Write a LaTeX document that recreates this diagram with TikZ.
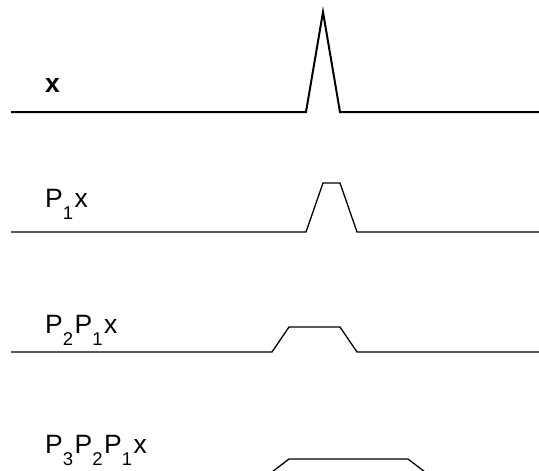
\documentclass[tikz,border=0pt]{standalone}
\usepackage{fontspec}
\setmainfont{Liberation Sans}
\usepackage{tikz}
\usetikzlibrary{positioning}
% subscript as in the figure: small and well below the baseline
\newcommand{\lowsub}[1]{\raisebox{-12.5pt}{\fontsize{18.5}{19}\selectfont #1}\kern1.5pt}
\tikzset{
  signal/.style={line width=1.3pt, line join=miter},
  spike/.style={signal, line width=2pt},
  rowlabel/.style={anchor=base west, inner sep=0pt, font=\fontsize{26.5}{30}\selectfont},
}

\begin{document}
\begin{tikzpicture}[x=1pt, y=-1pt]
    \useasboundingbox (0,0) rectangle (539,471);
    % input: a single spike
    \node[rowlabel, font=\fontsize{26.5}{30}\selectfont\bfseries] (lx) at (45,92) {x};
    \draw[spike] (11,112) -- (306,112) -- (323,12) -- (340,112) -- (539,112);
    % after P1
    \node[rowlabel] (lp1) at (45,207) {P\lowsub{1}x};
    \draw[signal] (11,232) -- (306,232) -- (323,183) -- (340,183) -- (357,232) -- (539,232);
    % after P2
    \node[rowlabel] (lp2) at (45,333) {P\lowsub{2}P\lowsub{1}x};
    \draw[signal] (11,352) -- (272,352) -- (289,327) -- (340,327) -- (357,352) -- (539,352);
    % after P3
    \node[rowlabel] (lp3) at (45,453) {P\lowsub{3}P\lowsub{2}P\lowsub{1}x};
    \draw[signal] (11,472) -- (272,472) -- (289,459) -- (408,459) -- (425,472) -- (539,472);
\end{tikzpicture}
\end{document}
